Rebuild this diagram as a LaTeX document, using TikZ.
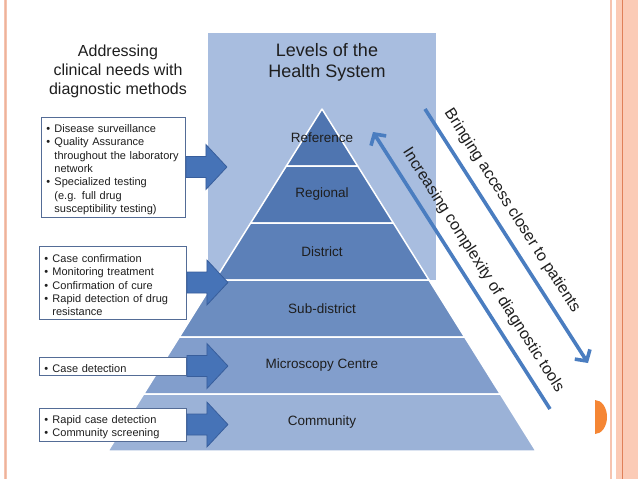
\documentclass[tikz,border=0pt]{standalone}
\usepackage{fontspec}
\setmainfont{Liberation Sans}
\usetikzlibrary{arrows.meta,calc}
\definecolor{hspanel}{RGB}{168,189,223}
\definecolor{lvA}{RGB}{79,117,176}
\definecolor{lvB}{RGB}{81,119,178}
\definecolor{lvC}{RGB}{92,128,184}
\definecolor{lvD}{RGB}{108,141,192}
\definecolor{lvE}{RGB}{130,158,204}
\definecolor{lvF}{RGB}{155,178,215}
\definecolor{boxedge}{RGB}{84,108,150}
\definecolor{arrowblue}{RGB}{70,115,183}
\definecolor{arrowedge}{RGB}{56,94,156}
\definecolor{diagblue}{RGB}{74,125,192}
\definecolor{textdark}{RGB}{30,30,30}
\definecolor{stripfill}{RGB}{251,203,182}
\definecolor{stripline}{RGB}{246,196,176}
\definecolor{stripdark}{RGB}{224,128,88}
\definecolor{dotorange}{RGB}{245,134,52}
\newcommand{\bitem}[1]{\par\hangindent=8pt\hangafter=1\noindent\makebox[8pt][l]{\textbullet}#1\par}
\tikzset{
  needbox/.style={draw=boxedge, line width=0.9pt, fill=white, align=left,
    text width=137pt, inner xsep=5pt, inner ysep=1pt, anchor=west,
    font=\fontsize{11}{13.3}\selectfont, text=textdark},
  layer/.style={draw=white, line width=1.5pt, line join=round},
  lvllabel/.style={font=\fontsize{13.5}{16}\selectfont, text=textdark},
  blockarrow/.style={fill=arrowblue, draw=arrowedge, line width=0.8pt},
  diagarrow/.style={line width=3.6pt, draw=diagblue, -{Straight Barb[length=8pt,width=18pt]}},
  diaglabel/.style={font=\fontsize{16}{18}\selectfont, text=textdark, sloped, above=8pt, inner sep=1pt}
}
\begin{document}
\begin{tikzpicture}[x=1pt, y=-1pt]
  \useasboundingbox (0,0) rectangle (638,479);
  % page borders
  \draw[stripline, line width=3.5pt] (5.3,0) -- (5.3,479);
  \draw[stripdark!60, line width=0.6pt] (5.3,0) -- (5.3,479);
  \fill[stripfill] (616,0) rectangle (638,479);
  \draw[stripline, line width=2.3pt] (611.2,0) -- (611.2,479);
  \draw[stripdark, line width=0.8pt] (622.3,0) -- (622.3,479);
  \fill[dotorange] (595,400) arc[start angle=90, end angle=-90, x radius=12pt, y radius=17pt] -- cycle;

  % levels of the health system
  \fill[hspanel] (208,33) rectangle (436,280);
  \node[font=\fontsize{18}{21}\selectfont, text=textdark, align=center] (levels) at (327,62) {Levels of the\\Health System};
  \foreach \i/\nm/\lbl/\col in {0/reference/Reference/lvA, 1/regional/Regional/lvB,
      2/district/District/lvC, 3/subdistrict/Sub-district/lvD,
      4/microscopy/Microscopy Centre/lvE, 5/community/Community/lvF}{
    \pgfmathsetmacro\yt{109+57*\i}
    \pgfmathsetmacro\yb{\yt+57}
    \pgfmathsetmacro\wt{0.6257*(\yt-109)}
    \pgfmathsetmacro\wb{0.6257*(\yb-109)}
    \filldraw[layer, fill=\col] (322-\wt,\yt) -- (322+\wt,\yt) -- (322+\wb,\yb) -- (322-\wb,\yb) -- cycle;
    \node[lvllabel] (\nm) at (322,\yt+28.5) {\lbl};
  }

  % clinical needs
  \node[font=\fontsize{16}{19}\selectfont, text=textdark, align=center] (needs) at (118,71)
    {Addressing\\clinical needs with\\diagnostic methods};
  \node[needbox, text width=134pt, minimum height=100pt] (needA) at (41,167) {%
    \bitem{Disease surveillance}
    \bitem{Quality Assurance\newline throughout the laboratory\newline network}
    \bitem{Specialized testing\newline (e.g. full drug\newline susceptibility testing)}};
  \node[needbox, minimum height=73pt] (needB) at (39,282.5) {%
    \bitem{Case confirmation}
    \bitem{Monitoring treatment}
    \bitem{Confirmation of cure}
    \bitem{Rapid detection of drug\newline resistance}};
  \node[needbox, minimum height=18pt] (needC) at (39,366) {%
    \bitem{Case detection}};
  \node[needbox, minimum height=33pt] (needD) at (39,424.5) {%
    \bitem{Rapid  case detection}
    \bitem{Community screening}};
  \foreach \b in {needA,needB,needC,needD}
    \draw[blockarrow] ($(\b.east)+(0,-10.5)$) -- ++(20,0) -- ++(0,-12) -- ++(21,22.5)
      -- ++(-21,22.5) -- ++(0,-12) -- ++(-20,0) -- cycle;

  % diagonal arrows
  \coordinate (accesstop) at (425,109);
  \coordinate (accesslow) at (588,363);
  \coordinate (cplxlow) at (550,409);
  \coordinate (cplxtop) at (373,132);
  \draw[diagarrow] (accesstop) -- node[diaglabel, pos=0.44] {Bringing access closer to patients} (accesslow);
  \draw[diagarrow] (cplxlow) -- node[diaglabel, pos=0.465] {Increasing complexity of diagnostic tools} (cplxtop);
\end{tikzpicture}
\end{document}
